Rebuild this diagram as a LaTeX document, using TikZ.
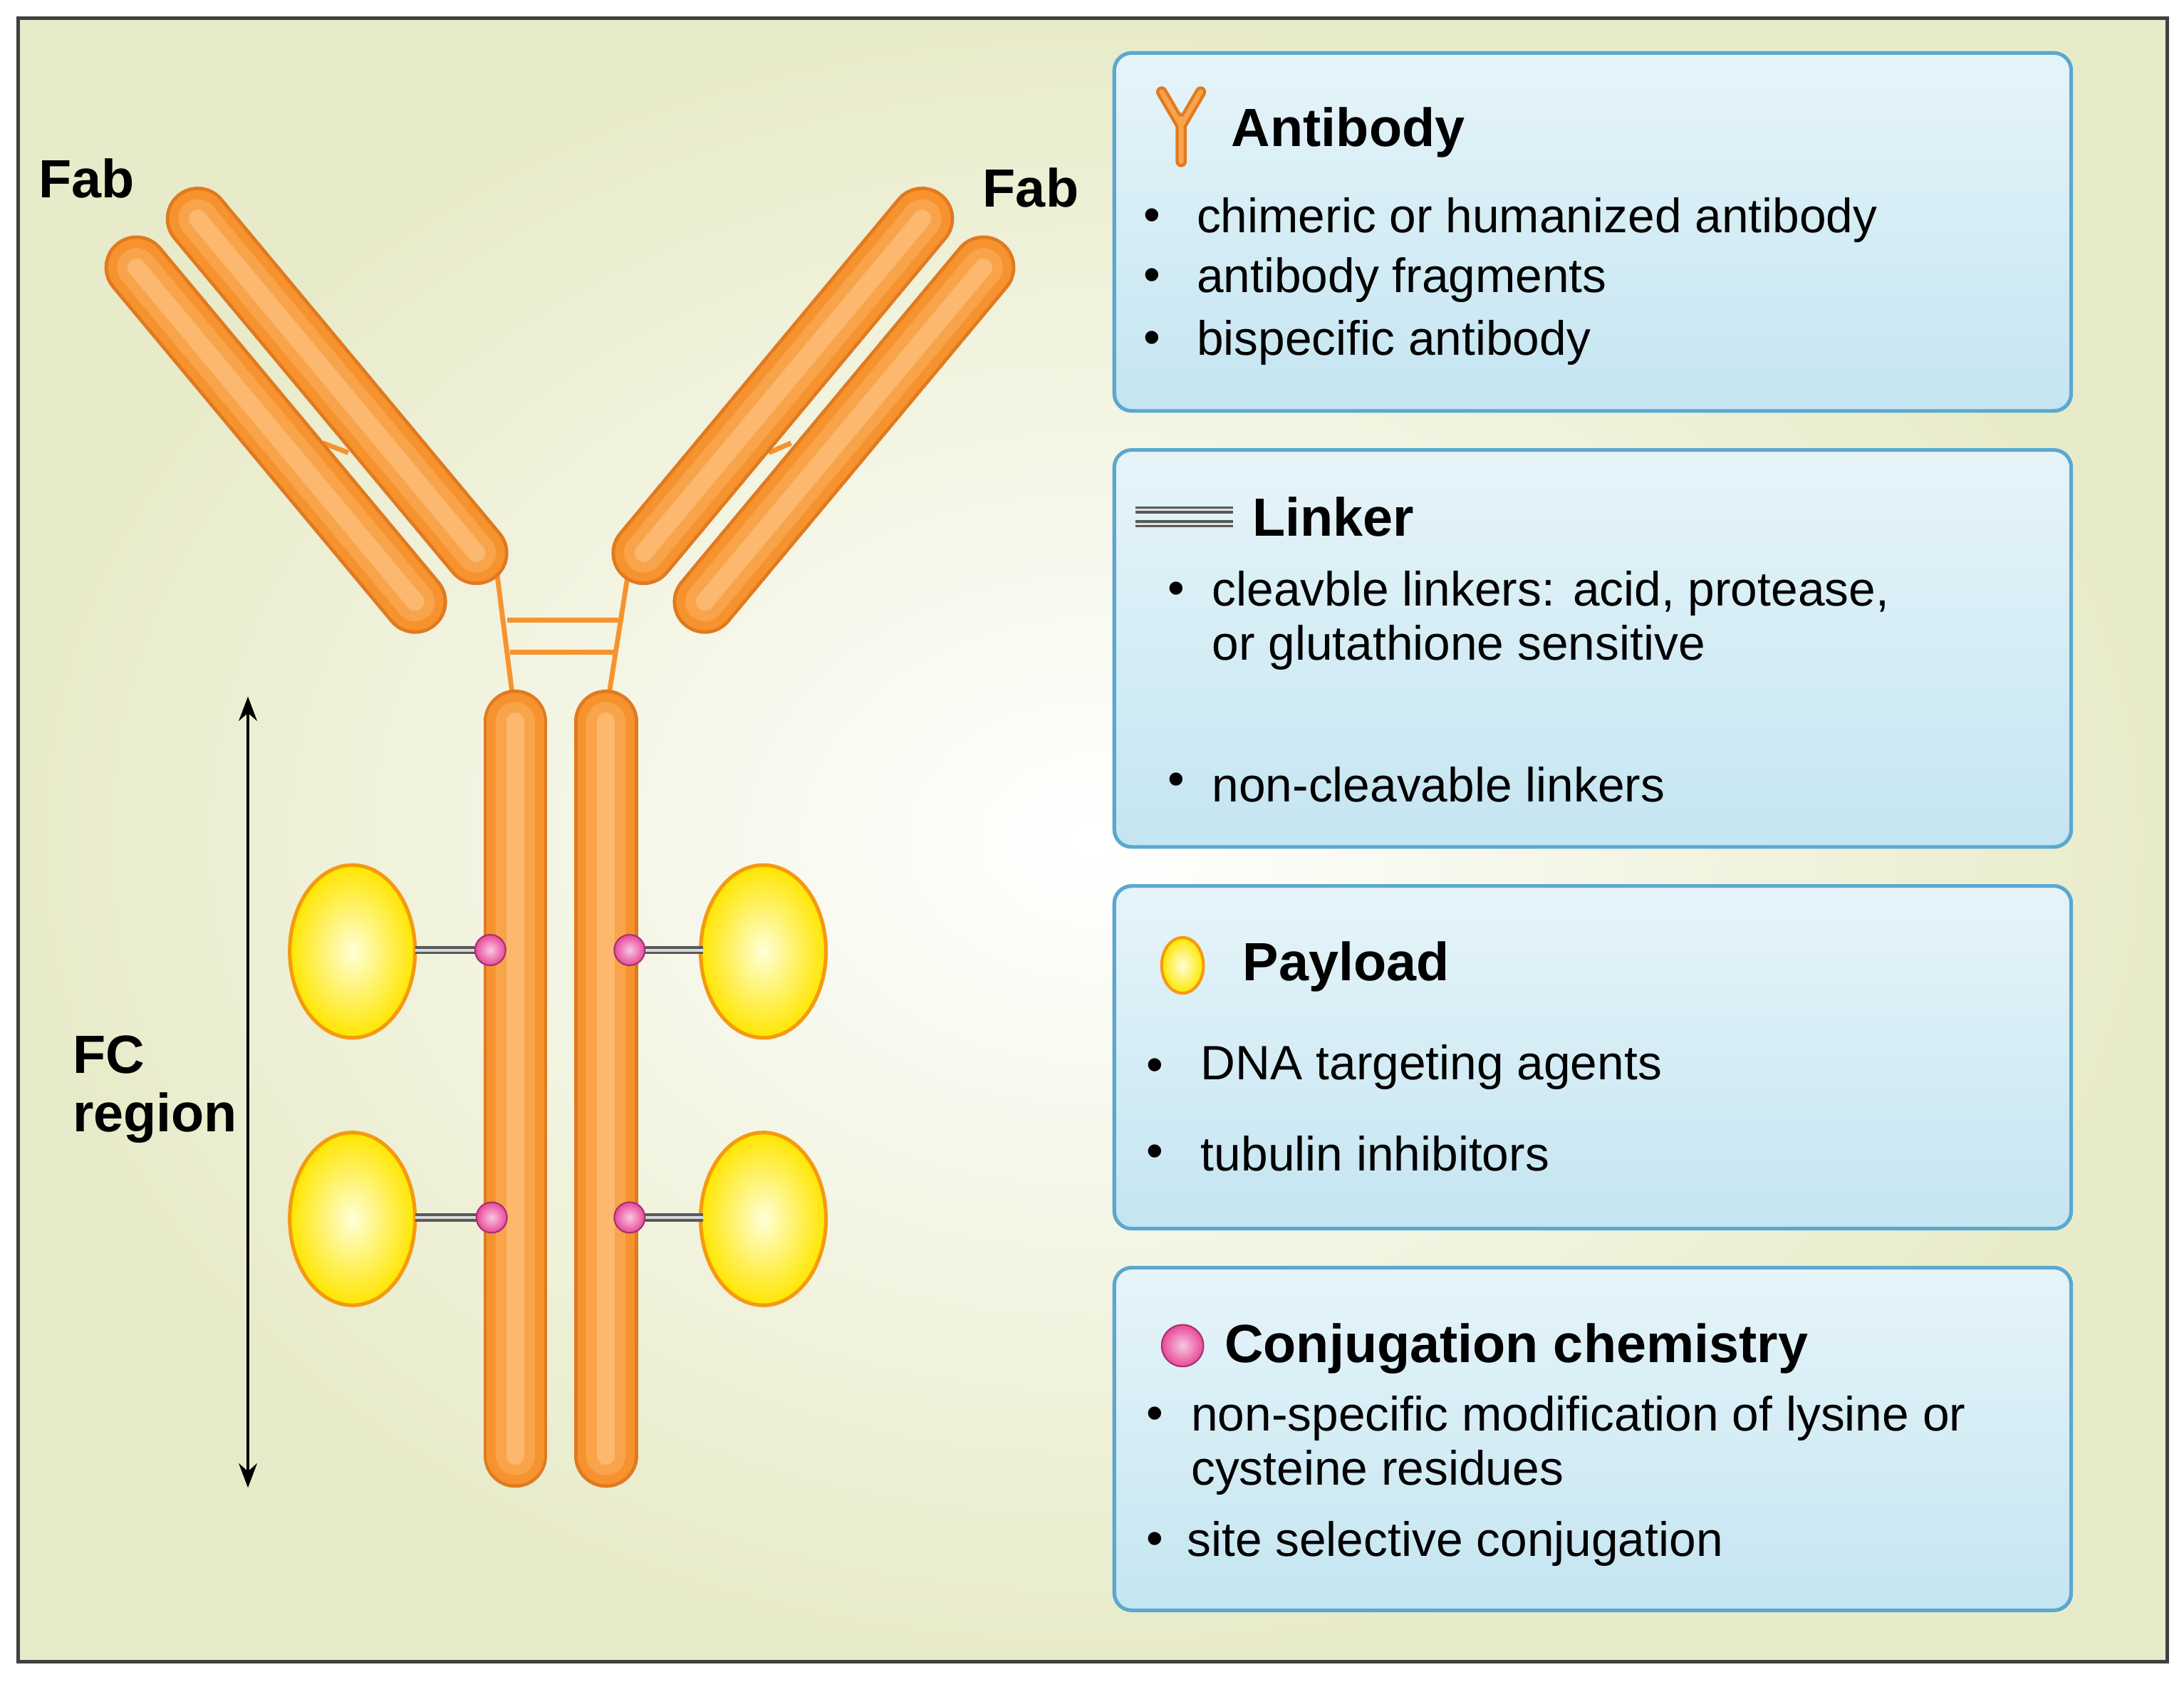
\documentclass[tikz,border=0pt]{standalone}
\usepackage{fontspec}
\setmainfont{Liberation Sans}
\usetikzlibrary{arrows.meta,shapes.geometric}
\definecolor{ordark}{HTML}{E07A20}
\definecolor{ormid}{HTML}{F7932F}
\definecolor{orlt}{HTML}{F9A44A}
\definecolor{orvlt}{HTML}{FBB86E}
\definecolor{boxedge}{HTML}{5AA8D0}
\definecolor{boxtop}{HTML}{E6F4F9}
\definecolor{boxbot}{HTML}{C4E5F1}
\definecolor{pinkc}{HTML}{E8489A}
\definecolor{payy}{HTML}{FFE600}
\definecolor{payo}{HTML}{F59A10}
\definecolor{bgout}{HTML}{E8EBC9}
\newcommand{\abbar}[2]{%
  \draw[line cap=round,ordark,line width=0.92cm] #1 -- #2;
  \draw[line cap=round,ormid,line width=0.82cm] #1 -- #2;
  \draw[line cap=round,orlt,line width=0.56cm] #1 -- #2;
  \draw[line cap=round,orvlt,line width=0.26cm] #1 -- #2;}
\newcommand{\payl}[1]{%
  \shade[inner color=yellow!15!white,outer color=payy,draw=payo,line width=1.5pt] #1 ellipse [x radius=45,y radius=62];}
\newcommand{\pdot}[2]{%
  \draw[gray!70!black,line width=0.12cm] #1 -- #2;
  \draw[gray!30,line width=0.04cm] #1 -- #2;
  \shade[inner color=pinkc!30,outer color=pinkc,draw=pinkc!70!black,line width=0.6pt] #2 circle [radius=11];}
\tikzset{
  infobox/.style={rounded corners=0.25cm,draw=boxedge,line width=1.5pt,top color=boxtop,bottom color=boxbot},
  title/.style={anchor=west,font=\fontsize{22}{26}\selectfont\bfseries},
  item/.style={anchor=west,font=\fontsize{19.7}{24}\selectfont},
  lab/.style={font=\fontsize{22}{26}\selectfont\bfseries}
}
\begin{document}
\begin{tikzpicture}[x={(0.02cm,0)},y={(0,-0.02cm)}]
\useasboundingbox (0,0) rectangle (1568,1207);
\fill[white] (0,0) rectangle (1568,1207);
\shade[inner color=white,outer color=bgout] (13,13) rectangle (1556,1193);
\draw[black!75,line width=1.5pt] (13,13) rectangle (1556,1193);
% hinge
\draw[ormid,line width=2pt] (356,405) -- (368,500) (452,405) -- (437,500);
\draw[ormid,line width=2pt] (364,445) -- (444,445) (366,468) -- (441,468);
\draw[ormid,line width=2pt] (232,318) -- (250,325) (568,318) -- (552,325);
% Fab arms
\abbar{(98,192)}{(298,432)}
\abbar{(142,157)}{(342,397)}
\abbar{(662,157)}{(462,397)}
\abbar{(706,192)}{(506,432)}
% Fc
\abbar{(370,518)}{(370,1045)}
\abbar{(435,518)}{(435,1045)}
% payloads
\payl{(253,683)} \payl{(548,683)} \payl{(253,875)} \payl{(548,875)}
\pdot{(298,682)}{(352,682)} \pdot{(505,682)}{(452,682)}
\pdot{(298,874)}{(353,874)} \pdot{(505,874)}{(452,874)}
% arrow
\coordinate (at) at (178,500); \coordinate (ab) at (178,1068);
\draw[{Stealth[length=0.35cm]}-{Stealth[length=0.35cm]},line width=1.2pt] (at) -- (ab);
\node[lab] (fab1) at (62,128) {Fab};
\node[lab] (fab2) at (740,135) {Fab};
\node[lab,align=left,anchor=west] (fc) at (46,782) {FC\\[-2pt]region};
% boxes
\draw[infobox] (800,38) rectangle (1487,295);
\draw[infobox] (800,323) rectangle (1487,608);
\draw[infobox] (800,636) rectangle (1487,882);
\draw[infobox] (800,910) rectangle (1487,1156);
% icons
\draw[ordark,line width=0.16cm,line cap=round] (848,85) -- (848,116) (848,90) -- (834,66) (848,90) -- (862,66);
\draw[orlt,line width=0.07cm,line cap=round] (848,85) -- (848,116) (848,90) -- (834,66) (848,90) -- (862,66);
\draw[gray!70!black,line width=0.1cm] (815,366) -- (885,366) (815,376) -- (885,376);
\draw[gray!25,line width=0.03cm] (815,366) -- (885,366) (815,376) -- (885,376);
\shade[inner color=yellow!15!white,outer color=payy,draw=payo,line width=1.2pt] (849,693) ellipse [x radius=15,y radius=20];
\shade[inner color=pinkc!30,outer color=pinkc,draw=pinkc!70!black,line width=0.6pt] (849,966) circle [radius=15];
% texts
\node[title] at (878,95) {Antibody};
\node[item] at (815,158) {•}; \node[item] at (853,158) {chimeric or humanized antibody};
\node[item] at (815,201) {•}; \node[item] at (853,201) {antibody fragments};
\node[item] at (815,246) {•}; \node[item] at (853,246) {bispecific antibody};
\node[title] at (893,371) {Linker};
\node[item] at (832,426) {•}; \node[item] at (864,426) {cleavble linkers: acid, protease,};
\node[item] at (864,465) {or glutathione sensitive};
\node[item] at (832,563) {•}; \node[item] at (864,563) {non-cleavable linkers};
\node[title] at (886,694) {Payload};
\node[item] at (817,768) {•}; \node[item] at (856,766) {DNA targeting agents};
\node[item] at (817,830) {•}; \node[item] at (856,828) {tubulin inhibitors};
\node[title] at (873,968) {Conjugation chemistry};
\node[item] at (817,1018) {•}; \node[item] at (849,1018) {non-specific modification of lysine or};
\node[item] at (849,1057) {cysteine residues};
\node[item] at (817,1108) {•}; \node[item] at (846,1108) {site selective conjugation};
\end{tikzpicture}
\end{document}
